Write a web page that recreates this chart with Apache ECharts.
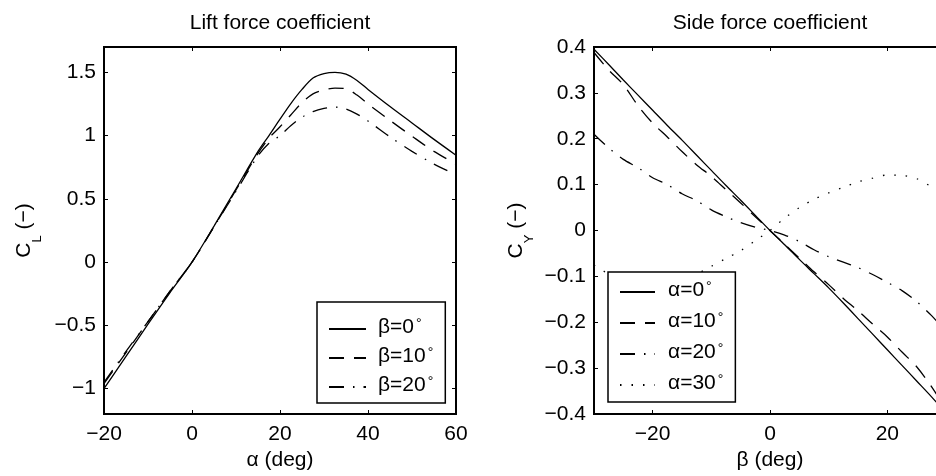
<!DOCTYPE html>
<html>
<head>
<meta charset="utf-8">
<script src="https://cdn.jsdelivr.net/npm/echarts@6/dist/echarts.min.js"></script>
<style>
  html, body { margin: 0; padding: 0; overflow: hidden; background: #fff; }
  #chart { width: 960px; height: 476px; }
</style>
</head>
<body>
<div id="chart"></div>
<script>
// lift coefficient vs angle of attack, one curve per sideslip angle
const alphaDeg = [-20, -15, -10, -5, 0, 5, 10, 15, 17.5, 20, 22.5, 25, 27.5, 30, 32.5, 35, 37.5, 40, 45, 50, 55, 60];
const liftBeta0  = [-1.0, -0.745, -0.49, -0.24, 0.0, 0.285, 0.58, 0.875, 1.0, 1.13, 1.255, 1.365, 1.455, 1.49, 1.5, 1.485, 1.435, 1.365, 1.23, 1.1, 0.97, 0.845];
const liftBeta10 = [-0.96, -0.715, -0.47, -0.23, 0.0, 0.28, 0.57, 0.86, 0.98, 1.07, 1.165, 1.26, 1.33, 1.36, 1.375, 1.37, 1.32, 1.25, 1.12, 0.995, 0.875, 0.775];
const liftBeta20 = [-0.95, -0.705, -0.47, -0.23, 0.0, 0.28, 0.56, 0.84, 0.94, 1.0, 1.08, 1.145, 1.19, 1.215, 1.225, 1.21, 1.17, 1.115, 0.99, 0.875, 0.775, 0.69];

// side force coefficient vs sideslip, one curve per angle of attack
const betaDeg = [-30, -27.5, -25, -22.5, -20, -17.5, -15, -12.5, -10, -7.5, -5, -2.5, 0, 2.5, 5, 7.5, 10, 12.5, 15, 17.5, 20, 22.5, 25, 27.5, 30];
const sideAlpha0  = [0.395, 0.362, 0.328, 0.295, 0.262, 0.229, 0.197, 0.164, 0.131, 0.098, 0.066, 0.033, 0, -0.031, -0.063, -0.094, -0.125, -0.158, -0.192, -0.226, -0.26, -0.294, -0.328, -0.362, -0.398];
const sideAlpha10 = [0.388, 0.35, 0.318, 0.272, 0.234, 0.204, 0.172, 0.143, 0.118, 0.089, 0.06, 0.03, 0, -0.03, -0.06, -0.09, -0.118, -0.148, -0.175, -0.204, -0.232, -0.265, -0.297, -0.34, -0.39];
const sideAlpha20 = [0.21, 0.18, 0.155, 0.137, 0.115, 0.1, 0.08, 0.065, 0.045, 0.03, 0.017, 0.007, 0, -0.01, -0.024, -0.042, -0.057, -0.069, -0.081, -0.096, -0.113, -0.131, -0.155, -0.185, -0.22];
const sideAlpha30 = [-0.075, -0.095, -0.11, -0.12, -0.122, -0.117, -0.107, -0.095, -0.078, -0.061, -0.044, -0.022, 0, 0.027, 0.05, 0.068, 0.082, 0.094, 0.106, 0.114, 0.121, 0.12, 0.113, 0.095, 0.07];

const liftTicksY = [-1, -0.5, 0, 0.5, 1, 1.5];
const sideTicksX = [-20, 0, 20];

const FONT = 'Liberation Sans, Arial, Helvetica, sans-serif';
const txt = { color: '#000', fontFamily: FONT, fontSize: 21 };

const solid = 'solid';
const dashed = [15, 10];
const dashDot = [15, 9, 1.5, 9];
const dotted = [1.5, 10];

function pairs(xs, ys) { return xs.map((x, i) => [x, ys[i]]); }
function fmt(v) {
  const r = Math.round(v * 100) / 100;
  return r < 0 ? '\u2212' + String(-r) : String(r);
}

function lineSeries(name, xi, yi, xs, ys, type) {
  return {
    name: name, type: 'line', xAxisIndex: xi, yAxisIndex: yi,
    data: pairs(xs, ys), symbol: 'none', smooth: 0.3,
    lineStyle: { color: '#000', width: 1.3, type: type },
    itemStyle: { color: '#000' }
  };
}

const nameRich = {
  a: { fontSize: 21, lineHeight: 22, verticalAlign: 'top', color: '#000', fontFamily: FONT },
  s: { fontSize: 13, lineHeight: 13, padding: [17, 0, 0, 0], verticalAlign: 'top', color: '#000', fontFamily: FONT }
};

function legendRich(padLeft) {
  return {
    t: { fontSize: 21, lineHeight: 24, verticalAlign: 'top', padding: [0, 0, 0, padLeft], color: '#000', fontFamily: FONT },
    d: { fontSize: 14, lineHeight: 10, verticalAlign: 'top', padding: [0, 0, 0, 2], color: '#000', fontFamily: FONT }
  };
}

const tick = { show: true, inside: true, length: 4, lineStyle: { color: '#000', width: 1 } };
const noLine = { show: false, onZero: false };

const option = {
  animation: false,
  backgroundColor: '#fff',
  textStyle: { fontFamily: FONT },
  title: [
    { text: 'Lift force coefficient', left: 275, top: 8, textAlign: 'center', textStyle: Object.assign({ fontWeight: 'normal' }, txt) },
    { text: 'Side force coefficient', left: 765, top: 8, textAlign: 'center', textStyle: Object.assign({ fontWeight: 'normal' }, txt) }
  ],
  grid: [
    { left: 104, top: 47, width: 352, height: 369, show: true, borderColor: '#000', borderWidth: 2 },
    { left: 594, top: 47, width: 352, height: 369, show: true, borderColor: '#000', borderWidth: 2 }
  ],
  xAxis: [
    { type: 'value', gridIndex: 0, min: -20, max: 60, interval: 20, position: 'bottom',
      splitLine: { show: false }, axisLine: noLine, axisTick: tick,
      axisLabel: Object.assign({ margin: 10, formatter: fmt }, txt),
      name: 'α (deg)', nameLocation: 'middle', nameGap: 36, nameTextStyle: txt },
    { type: 'value', gridIndex: 0, min: -20, max: 60, interval: 20, position: 'top',
      splitLine: { show: false }, axisLine: noLine, axisTick: tick, axisLabel: { show: false } },
    { type: 'value', gridIndex: 1, min: -30, max: 30, position: 'bottom',
      splitLine: { show: false }, axisLine: noLine,
      axisTick: Object.assign({ customValues: sideTicksX }, tick),
      axisLabel: Object.assign({ margin: 10, formatter: fmt, customValues: sideTicksX }, txt),
      name: 'β (deg)', nameLocation: 'middle', nameGap: 36, nameTextStyle: txt },
    { type: 'value', gridIndex: 1, min: -30, max: 30, position: 'top',
      splitLine: { show: false }, axisLine: noLine,
      axisTick: Object.assign({ customValues: sideTicksX }, tick), axisLabel: { show: false } }
  ],
  yAxis: [
    { type: 'value', gridIndex: 0, min: -1.2, max: 1.7, position: 'left',
      splitLine: { show: false }, axisLine: noLine,
      axisTick: Object.assign({ customValues: liftTicksY }, tick),
      axisLabel: Object.assign({ margin: 8, formatter: fmt, customValues: liftTicksY }, txt),
      name: '{a|C}{s|L}{a| (\u2212)}', nameLocation: 'middle', nameGap: 68,
      nameTextStyle: { rich: nameRich } },
    { type: 'value', gridIndex: 0, min: -1.2, max: 1.7, position: 'right',
      splitLine: { show: false }, axisLine: noLine,
      axisTick: Object.assign({ customValues: liftTicksY }, tick), axisLabel: { show: false } },
    { type: 'value', gridIndex: 1, min: -0.4, max: 0.4, interval: 0.1, position: 'left',
      splitLine: { show: false }, axisLine: noLine, axisTick: tick,
      axisLabel: Object.assign({ margin: 8, formatter: fmt }, txt),
      name: '{a|C}{s|Y}{a| (\u2212)}', nameLocation: 'middle', nameGap: 66,
      nameTextStyle: { rich: nameRich } },
    { type: 'value', gridIndex: 1, min: -0.4, max: 0.4, interval: 0.1, position: 'right',
      splitLine: { show: false }, axisLine: noLine, axisTick: tick, axisLabel: { show: false } }
  ],
  legend: [
    { data: ['β=0', 'β=10', 'β=20'], orient: 'vertical', left: 317, top: 302,
      itemWidth: 37, itemHeight: 14, itemGap: 8, padding: [15, 12, 7, 11],
      backgroundColor: '#fff', borderColor: '#000', borderWidth: 1.5, borderRadius: 0,
      itemStyle: { opacity: 0 }, selectedMode: false,
      formatter: n => '{t|' + n + '}{d|°}', textStyle: { rich: legendRich(7) } },
    { data: ['α=0', 'α=10', 'α=20', 'α=30'], orient: 'vertical', left: 608, top: 272,
      itemWidth: 35, itemHeight: 14, itemGap: 10, padding: [8, 12, 8, 11],
      backgroundColor: '#fff', borderColor: '#000', borderWidth: 1.5, borderRadius: 0,
      itemStyle: { opacity: 0 }, selectedMode: false,
      formatter: n => '{t|' + n + '}{d|°}', textStyle: { rich: legendRich(8) } }
  ],
  series: [
    lineSeries('β=0', 0, 0, alphaDeg, liftBeta0, solid),
    lineSeries('β=10', 0, 0, alphaDeg, liftBeta10, dashed),
    lineSeries('β=20', 0, 0, alphaDeg, liftBeta20, dashDot),
    lineSeries('α=0', 2, 2, betaDeg, sideAlpha0, solid),
    lineSeries('α=10', 2, 2, betaDeg, sideAlpha10, dashed),
    lineSeries('α=20', 2, 2, betaDeg, sideAlpha20, dashDot),
    lineSeries('α=30', 2, 2, betaDeg, sideAlpha30, dotted)
  ]
};

const chart = echarts.init(document.getElementById('chart'));
chart.setOption(option);
</script>
</body>
</html>
